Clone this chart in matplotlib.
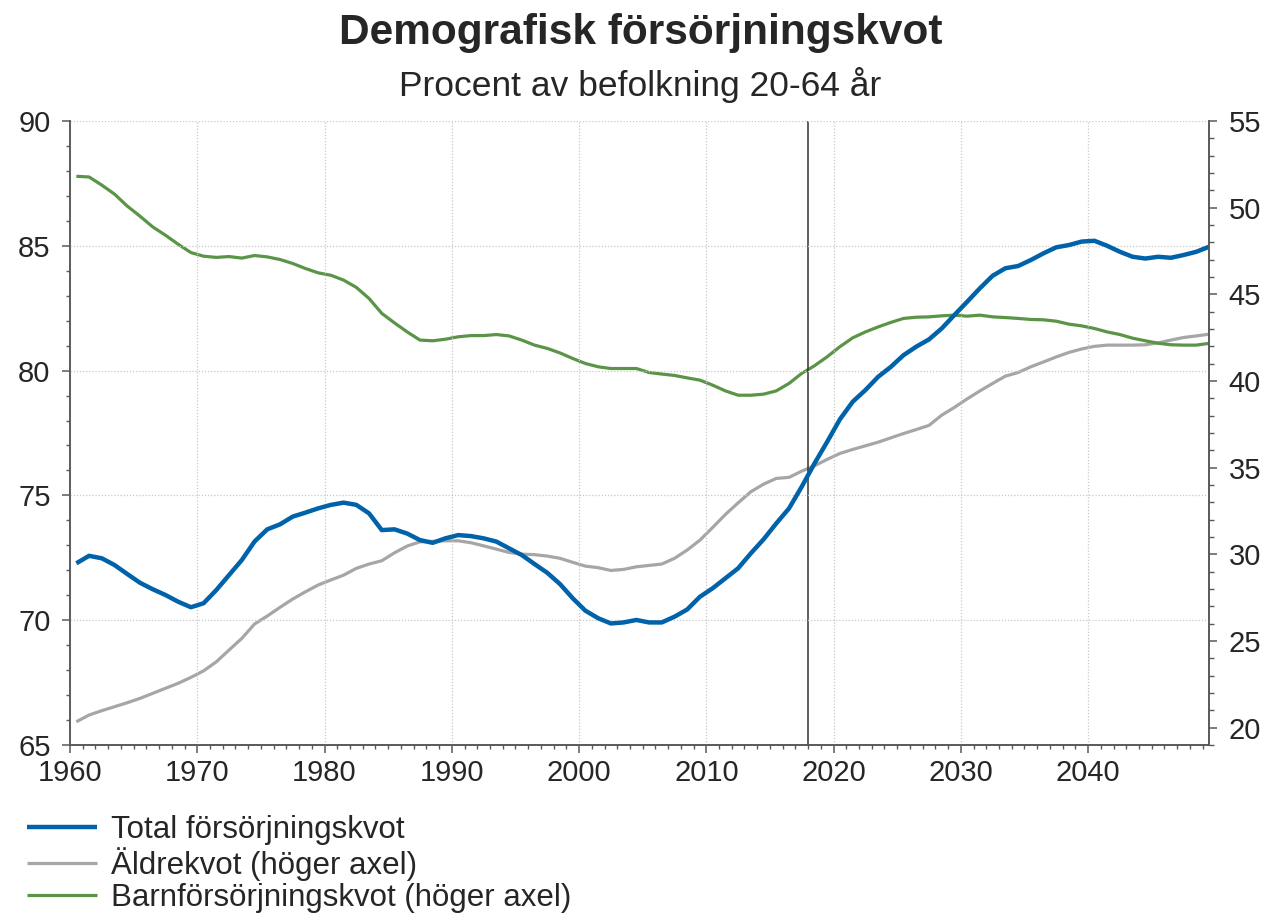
import numpy as np
import matplotlib
matplotlib.use("Agg")
import matplotlib.pyplot as plt
from matplotlib.ticker import MultipleLocator

plt.rcParams['font.family'] = ['Liberation Sans', 'DejaVu Sans']

years = list(range(1960, 2050))

total = [72.28, 72.58, 72.48, 72.21, 71.85, 71.50, 71.24, 71.01, 70.74, 70.52,
         70.68, 71.21, 71.81, 72.41, 73.15, 73.64, 73.84, 74.15, 74.31, 74.48,
         74.62, 74.71, 74.62, 74.28, 73.61, 73.64, 73.47, 73.21, 73.10, 73.28,
         73.41, 73.37, 73.28, 73.15, 72.88, 72.61, 72.25, 71.90, 71.45, 70.88,
         70.38, 70.08, 69.87, 69.91, 70.01, 69.91, 69.91, 70.14, 70.43, 70.94,
         71.28, 71.68, 72.08, 72.68, 73.24, 73.88, 74.48, 75.35, 76.28, 77.15,
         78.05, 78.75, 79.22, 79.75, 80.15, 80.62, 80.96, 81.25, 81.69, 82.23,
         82.76, 83.30, 83.80, 84.10, 84.19, 84.43, 84.70, 84.94, 85.03, 85.17,
         85.20, 85.00, 84.76, 84.56, 84.49, 84.56, 84.52, 84.63, 84.76, 84.96]

aldre = [20.34, 20.73, 20.98, 21.21, 21.44, 21.69, 21.98, 22.27, 22.56, 22.90,
         23.28, 23.80, 24.48, 25.15, 25.98, 26.44, 26.94, 27.42, 27.84, 28.23,
         28.52, 28.80, 29.19, 29.44, 29.63, 30.09, 30.48, 30.72, 30.75, 30.78,
         30.78, 30.67, 30.49, 30.30, 30.11, 30.01, 29.98, 29.90, 29.77, 29.54,
         29.32, 29.23, 29.07, 29.13, 29.28, 29.36, 29.44, 29.77, 30.25, 30.82,
         31.55, 32.30, 32.97, 33.61, 34.05, 34.38, 34.44, 34.80, 35.11, 35.48,
         35.82, 36.05, 36.26, 36.47, 36.72, 36.97, 37.20, 37.44, 38.03, 38.48,
         38.97, 39.43, 39.86, 40.28, 40.49, 40.82, 41.10, 41.39, 41.65, 41.85,
         42.00, 42.07, 42.07, 42.07, 42.09, 42.20, 42.36, 42.51, 42.60, 42.70]

barn = [51.81, 51.77, 51.30, 50.78, 50.09, 49.51, 48.89, 48.41, 47.89, 47.41,
        47.20, 47.13, 47.18, 47.09, 47.24, 47.16, 47.01, 46.78, 46.49, 46.24,
        46.10, 45.82, 45.40, 44.76, 43.90, 43.35, 42.83, 42.36, 42.32, 42.41,
        42.55, 42.62, 42.62, 42.68, 42.60, 42.36, 42.07, 41.88, 41.62, 41.30,
        41.01, 40.82, 40.72, 40.72, 40.72, 40.49, 40.40, 40.32, 40.18, 40.05,
        39.76, 39.43, 39.18, 39.18, 39.24, 39.43, 39.86, 40.44, 40.88, 41.40,
        41.98, 42.49, 42.83, 43.12, 43.38, 43.61, 43.68, 43.70, 43.76, 43.80,
        43.74, 43.80, 43.70, 43.66, 43.61, 43.55, 43.53, 43.45, 43.28, 43.18,
        43.03, 42.83, 42.68, 42.47, 42.32, 42.18, 42.09, 42.07, 42.07, 42.17]

labels = ["Total försörjningskvot", "Äldrekvot (höger axel)",
          "Barnförsörjningskvot (höger axel)"]
title = "Demografisk försörjningskvot"
subtitle = "Procent av befolkning 20-64 år"
prognosis_year = 2018

c_blue = "#0062A8"
c_gray = "#A6A6A6"
c_green = "#5A9446"
txt = "#262626"
axcol = "#595959"

fig = plt.figure(figsize=(12.68, 9.16), dpi=100)
ax = fig.add_axes([70/1268, 1 - 745/916, (1209-70)/1268, (745-121)/916])
ax2 = ax.twinx()

x = np.array(years) + 0.5

ax.set_xlim(1960, 2049.5)
ax.set_ylim(65, 90)
ax2.set_ylim(19, 55)

ax.set_zorder(ax2.get_zorder() + 1)
ax.patch.set_visible(False)

lg, = ax2.plot(x, aldre, color=c_gray, lw=2.3, solid_capstyle='butt')
lgr, = ax2.plot(x, barn, color=c_green, lw=2.3, solid_capstyle='butt')
lb, = ax.plot(x, total, color=c_blue, lw=3.2, solid_capstyle='butt')
ax.axvline(prognosis_year, color="#333333", lw=1.1, zorder=1)

ax.xaxis.set_major_locator(MultipleLocator(10))
ax.xaxis.set_minor_locator(MultipleLocator(1))
ax.yaxis.set_major_locator(MultipleLocator(5))
ax.yaxis.set_minor_locator(MultipleLocator(1))
ax2.yaxis.set_major_locator(MultipleLocator(5))
ax2.yaxis.set_minor_locator(MultipleLocator(1))
ax2.set_yticks([20, 25, 30, 35, 40, 45, 50, 55])

ax.grid(True, which='major', color='#C8C8C8', linestyle=(0, (1, 1.5)), lw=0.9)

for a in (ax, ax2):
    for s in a.spines.values():
        s.set_color(axcol)
        s.set_linewidth(1.2)
    a.spines['top'].set_visible(False)

ax.tick_params(axis='both', which='major', length=6, width=1.1, color=axcol,
               labelsize=21, labelcolor=txt, direction='out')
ax.tick_params(axis='both', which='minor', length=3, width=1.0, color=axcol,
               direction='out')
ax.tick_params(axis='x', which='major', pad=4)
ax.tick_params(axis='y', which='major', pad=8)
ax2.tick_params(axis='y', which='major', length=6, width=1.1, color=axcol,
                labelsize=21, labelcolor=txt, direction='out', pad=8)
ax2.tick_params(axis='y', which='minor', length=3.5, width=1.0, color=axcol,
                direction='out')

fig.text(0.505, 1 - 33/916, title, ha='center', va='center', fontsize=30.5,
         fontweight='bold', color=txt)
fig.text(0.505, 1 - 85/916, subtitle, ha='center', va='center', fontsize=25.5,
         color=txt)

leg = fig.legend([lb, lg, lgr], labels, loc='upper left',
                 bbox_to_anchor=(27/1268, 1 - 815/916), frameon=False,
                 fontsize=22.5, handlelength=2.25, handletextpad=0.44,
                 labelspacing=0.06, borderaxespad=0, borderpad=0)
for t in leg.get_texts():
    t.set_color(txt)

fig.savefig("out.png", dpi=100)
